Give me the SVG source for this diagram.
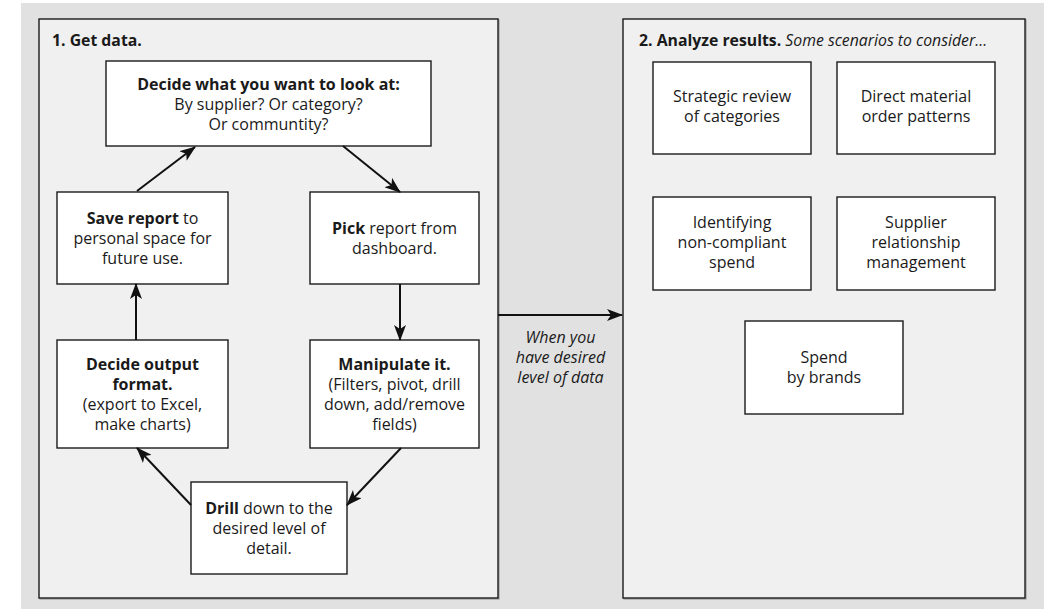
<svg xmlns="http://www.w3.org/2000/svg" width="1044" height="609" viewBox="0 0 1044 609">
  <style>
    .panel { fill: #f0f0f0; stroke: #1a1a1a; stroke-width: 1.4; }
    .shadow { fill: none; stroke: #9c9c9c; stroke-width: 1.2; }
    .box { fill: #ffffff; stroke: #1a1a1a; stroke-width: 1.4; }
    .t { font-family: "Open Sans", "Noto Sans", "Liberation Sans", sans-serif; font-size: 16px; fill: #1a1a1a; text-anchor: middle; }
    .title { font-family: "Open Sans", "Noto Sans", "Liberation Sans", sans-serif; font-size: 15.8px; fill: #1a1a1a; }
    .b { font-weight: bold; }
    .i { font-style: italic; }
    .conn { stroke: #111; stroke-width: 2; fill: none; marker-end: url(#arrow); }
  </style>
  <defs>
    <marker id="arrow" markerUnits="userSpaceOnUse" viewBox="0 0 16 12" markerWidth="16" markerHeight="12" refX="15" refY="6" orient="auto">
      <path d="M0,0 L16,6 L0,12 L4,6 Z" fill="#111"/>
    </marker>
  </defs>

  <!-- backdrop -->
  <rect x="21" y="3" width="1023" height="606" fill="#e1e1e1"/>

  <!-- panel 1: get data -->
  <g id="panel-get-data">
    <rect class="shadow" x="40" y="20" width="459" height="579"/>
    <rect class="panel" x="39" y="19" width="459" height="579"/>
    <text class="title b" x="52" y="46">1. Get data.</text>
  </g>

  <!-- panel 2: analyze results -->
  <g id="panel-analyze">
    <rect class="shadow" x="624" y="20" width="402" height="579"/>
    <rect class="panel" x="623" y="19" width="402" height="579"/>
    <text class="title" x="639" y="46"><tspan class="b">2. Analyze results.</tspan> <tspan class="i">Some scenarios to consider…</tspan></text>
  </g>

  <!-- workflow steps -->
  <g id="node-decide-look">
    <rect class="box" x="106" y="61" width="325" height="85"/>
    <text class="t" x="268.5" y="90"><tspan class="b">Decide what you want to look at:</tspan></text>
    <text class="t" x="268.5" y="110">By supplier? Or category?</text>
    <text class="t" x="268.5" y="130">Or communtity?</text>
  </g>

  <g id="node-save-report">
    <rect class="box" x="57" y="192" width="171" height="92"/>
    <text class="t" x="142.5" y="223.5"><tspan class="b">Save report</tspan> to</text>
    <text class="t" x="142.5" y="243.5">personal space for</text>
    <text class="t" x="142.5" y="263.5">future use.</text>
  </g>

  <g id="node-pick-report">
    <rect class="box" x="310" y="192" width="169" height="92"/>
    <text class="t" x="394.5" y="233.5"><tspan class="b">Pick</tspan> report from</text>
    <text class="t" x="394.5" y="253.5">dashboard.</text>
  </g>

  <g id="node-output-format">
    <rect class="box" x="57" y="340" width="171" height="108"/>
    <text class="t b" x="142.5" y="369.5">Decide output</text>
    <text class="t b" x="142.5" y="389.5">format.</text>
    <text class="t" x="142.5" y="409.5">(export to Excel,</text>
    <text class="t" x="142.5" y="429.5">make charts)</text>
  </g>

  <g id="node-manipulate">
    <rect class="box" x="310" y="340" width="169" height="108"/>
    <text class="t b" x="394.5" y="369.5">Manipulate it.</text>
    <text class="t" x="394.5" y="389.5">(Filters, pivot, drill</text>
    <text class="t" x="394.5" y="409.5">down, add/remove</text>
    <text class="t" x="394.5" y="429.5">fields)</text>
  </g>

  <g id="node-drill">
    <rect class="box" x="191" y="482" width="156" height="92"/>
    <text class="t" x="269" y="513.5"><tspan class="b">Drill</tspan> down to the</text>
    <text class="t" x="269" y="533.5">desired level of</text>
    <text class="t" x="269" y="553.5">detail.</text>
  </g>

  <!-- analysis scenarios -->
  <g id="node-strategic-review">
    <rect class="box" x="653" y="62" width="158" height="92"/>
    <text class="t" x="732" y="102">Strategic review</text>
    <text class="t" x="732" y="122">of categories</text>
  </g>

  <g id="node-direct-material">
    <rect class="box" x="837" y="62" width="158" height="92"/>
    <text class="t" x="916" y="102">Direct material</text>
    <text class="t" x="916" y="122">order patterns</text>
  </g>

  <g id="node-non-compliant">
    <rect class="box" x="653" y="197" width="158" height="93"/>
    <text class="t" x="732" y="228">Identifying</text>
    <text class="t" x="732" y="248">non-compliant</text>
    <text class="t" x="732" y="268">spend</text>
  </g>

  <g id="node-supplier-relationship">
    <rect class="box" x="837" y="197" width="158" height="93"/>
    <text class="t" x="916" y="228">Supplier</text>
    <text class="t" x="916" y="248">relationship</text>
    <text class="t" x="916" y="268">management</text>
  </g>

  <g id="node-spend-brands">
    <rect class="box" x="745" y="321" width="158" height="93"/>
    <text class="t" x="824" y="363">Spend</text>
    <text class="t" x="824" y="383">by brands</text>
  </g>

  <!-- connectors -->
  <g id="connectors">
    <line class="conn" x1="137" y1="191" x2="195" y2="147"/>
    <line class="conn" x1="343" y1="146" x2="400" y2="192"/>
    <line class="conn" x1="400" y1="284" x2="400" y2="340"/>
    <line class="conn" x1="136" y1="340" x2="136" y2="284"/>
    <line class="conn" x1="401" y1="448" x2="347" y2="505"/>
    <line class="conn" x1="191" y1="505" x2="137" y2="448"/>
    <line class="conn" x1="498" y1="315" x2="622" y2="315"/>
    <text class="t i" x="560.5" y="343">When you</text>
    <text class="t i" x="560.5" y="363">have desired</text>
    <text class="t i" x="560.5" y="383">level of data</text>
  </g>
</svg>
